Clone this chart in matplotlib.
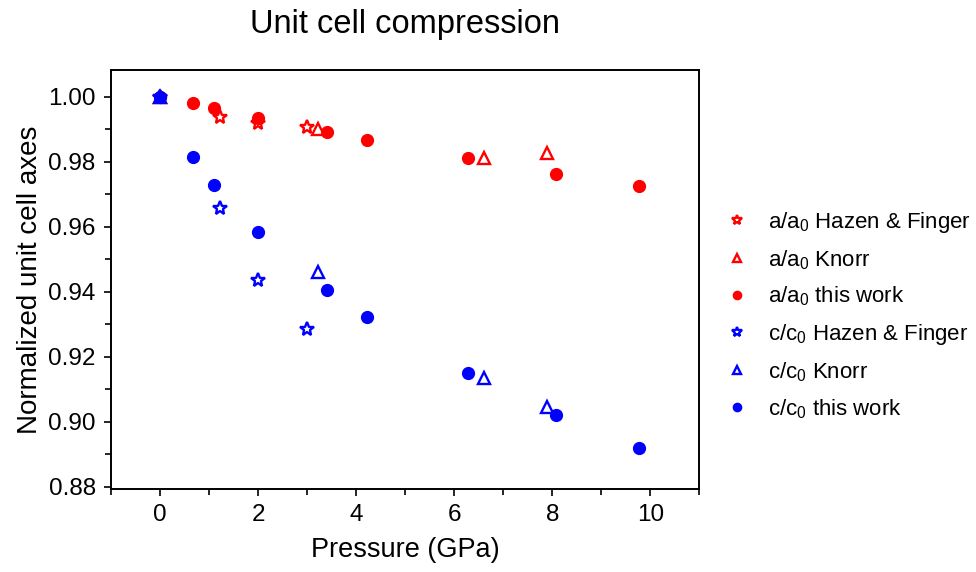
import matplotlib
matplotlib.use("Agg")
import matplotlib.pyplot as plt
from matplotlib.ticker import MultipleLocator

plt.rcParams['font.family'] = ['Liberation Sans', 'DejaVu Sans']
plt.rcParams['mathtext.fontset'] = 'custom'
plt.rcParams['mathtext.rm'] = 'Liberation Sans'

# a/a0
p_a_hf = [0.0, 1.22, 2.0, 3.0]
a_hf = [1.000, 0.9938, 0.9918, 0.9908]
p_a_kn = [0.0, 3.22, 6.6, 7.9]
a_kn = [1.000, 0.9902, 0.9812, 0.9827]
p_a_tw = [0.0, 0.67, 1.11, 2.0, 3.40, 4.22, 6.27, 8.08, 9.77]
a_tw = [1.000, 0.998, 0.9966, 0.9933, 0.9891, 0.9867, 0.9811, 0.9763, 0.9725]

# c/c0
p_c_hf = [0.0, 1.22, 2.0, 3.0]
c_hf = [1.000, 0.9658, 0.9437, 0.9285]
p_c_kn = [0.0, 3.22, 6.6, 7.9]
c_kn = [1.000, 0.9462, 0.9136, 0.9046]
p_c_tw = [0.0, 0.67, 1.11, 2.0, 3.40, 4.22, 6.27, 8.08, 9.77]
c_tw = [1.000, 0.9815, 0.9727, 0.9585, 0.9406, 0.9322, 0.9151, 0.9022, 0.8920]

fig = plt.figure(figsize=(9.76, 5.72), dpi=100)
ax = fig.add_axes([0.1137, 0.145, 0.603, 0.7326])

ax.plot(p_a_hf, a_hf, ls='none', marker='*', ms=10, mfc='none', mec='red', mew=1.7,
        label=r'a/a$_0$ Hazen & Finger')
ax.plot(p_a_kn, a_kn, ls='none', marker='^', ms=8.5, mfc='none', mec='red', mew=1.7,
        label=r'a/a$_0$ Knorr')
ax.plot(p_a_tw, a_tw, ls='none', marker='o', ms=8.5, color='red', mec='red',
        label=r'a/a$_0$ this work')
ax.plot(p_c_hf, c_hf, ls='none', marker='*', ms=10, mfc='none', mec='blue', mew=1.7,
        label=r'c/c$_0$ Hazen & Finger')
ax.plot(p_c_kn, c_kn, ls='none', marker='^', ms=8.5, mfc='none', mec='blue', mew=1.7,
        label=r'c/c$_0$ Knorr')
ax.plot(p_c_tw, c_tw, ls='none', marker='o', ms=8.5, color='blue', mec='blue',
        label=r'c/c$_0$ this work')

ax.set_xlim(-1, 11)
ax.set_ylim(0.8793, 1.0082)
ax.xaxis.set_major_locator(MultipleLocator(2))
ax.xaxis.set_minor_locator(MultipleLocator(1))
ax.yaxis.set_major_locator(MultipleLocator(0.02))
ax.yaxis.set_minor_locator(MultipleLocator(0.01))
ax.yaxis.set_major_formatter(plt.FuncFormatter(lambda v, _: f'{v:.2f}'))

ax.tick_params(which='both', direction='out', width=1.2, labelsize=17.5, pad=6)
ax.tick_params(which='major', length=5)
ax.tick_params(which='minor', length=4)
for s in ax.spines.values():
    s.set_linewidth(1.4)

ax.set_xlabel('Pressure (GPa)', fontsize=19.5, labelpad=8)
ax.set_ylabel('Normalized unit cell axes', fontsize=20, labelpad=4)
ax.set_title('Unit cell compression', fontsize=23.5, pad=27)

ax.legend(loc='center left', bbox_to_anchor=(1.0, 0.415), frameon=False,
          fontsize=16, markerscale=0.7, handletextpad=0.6, labelspacing=0.6,
          handlelength=1.6)

fig.savefig('out.png', dpi=100)
